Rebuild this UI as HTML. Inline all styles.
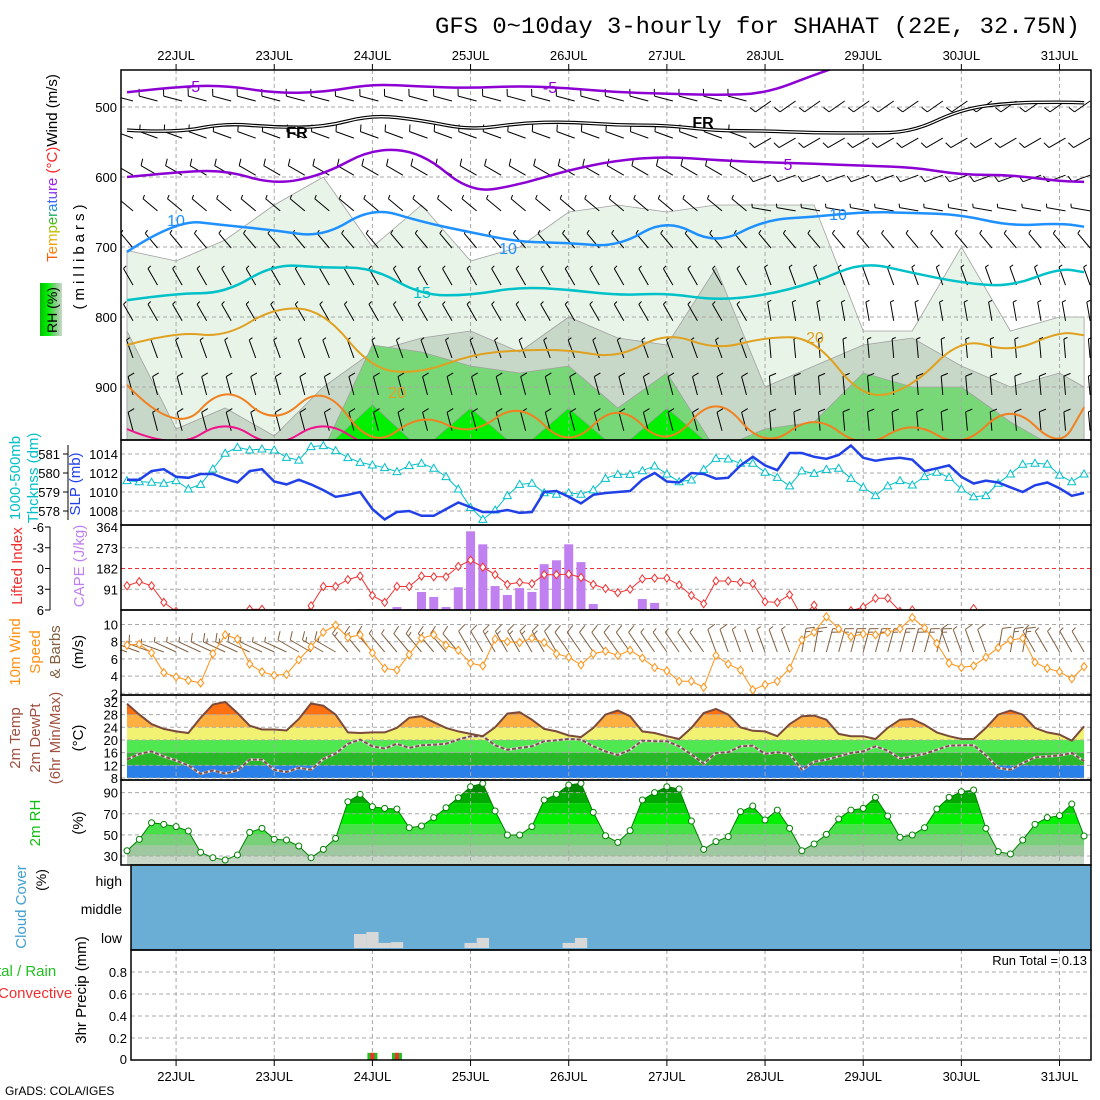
<!DOCTYPE html>
<html><head><meta charset="utf-8">
<style>
body{margin:0;background:#fff}
svg{display:block;font-family:"Liberation Sans",sans-serif}
</style></head>
<body>
<svg id="chart" xmlns="http://www.w3.org/2000/svg" width="1100" height="1100" viewBox="0 0 1100 1100">
<defs>
 <clipPath id="clipTop"><rect x="121" y="70" width="970" height="370"/></clipPath>
 <clipPath id="clip2"><rect x="121" y="440" width="970" height="85"/></clipPath>
 <clipPath id="clip3"><rect x="121" y="525" width="970" height="85"/></clipPath>
 <clipPath id="clip4"><rect x="121" y="610" width="970" height="85"/></clipPath>
 <clipPath id="clip6"><rect x="121" y="780" width="970" height="85"/></clipPath>
 <linearGradient id="rainbow" gradientUnits="userSpaceOnUse" x1="-100" y1="0" x2="-22" y2="0">
  <stop offset="0" stop-color="#ff2020"/><stop offset="0.25" stop-color="#ff9000"/>
  <stop offset="0.45" stop-color="#d0c000"/><stop offset="0.62" stop-color="#20c020"/>
  <stop offset="0.8" stop-color="#2080ff"/><stop offset="1" stop-color="#a020f0"/>
 </linearGradient>
 <linearGradient id="rhbox" x1="0" y1="0" x2="1" y2="0">
  <stop offset="0" stop-color="#00c000"/><stop offset="0.35" stop-color="#00f000"/>
  <stop offset="0.7" stop-color="#80d080"/><stop offset="1" stop-color="#c8d8c8"/>
 </linearGradient>
</defs>
<rect x="0" y="0" width="1100" height="1100" fill="#fff"/>
<text x="435" y="33" font-family="Liberation Mono, monospace" font-size="23" textLength="645" lengthAdjust="spacingAndGlyphs" fill="#000">GFS 0~10day 3-hourly for SHAHAT (22E, 32.75N)</text>

<text transform="translate(57,168) rotate(-90)" text-anchor="middle" font-size="15"><tspan fill="url(#rainbow)">Temperature</tspan><tspan fill="#ff2020"> (°C)</tspan><tspan fill="#000">Wind (m/s)</tspan></text>
<text transform="translate(84,255) rotate(-90)" text-anchor="middle" font-size="15" letter-spacing="4">(millibars)</text>
<rect x="40" y="283" width="22" height="53" fill="url(#rhbox)"/>
<text transform="translate(57,310) rotate(-90)" text-anchor="middle" font-size="14">RH (%)</text>

<text transform="translate(20,478) rotate(-90)" text-anchor="middle" font-size="15" fill="#00c0c8">1000-500mb</text>
<text transform="translate(38,478) rotate(-90)" text-anchor="middle" font-size="15" fill="#00c0c8">Thcknss (dm)</text>
<text transform="translate(80,484) rotate(-90)" text-anchor="middle" font-size="15" fill="#2040e8">SLP (mb)</text>
<text transform="translate(22,566) rotate(-90)" text-anchor="middle" font-size="15" fill="#f03030">Lifted Index</text>
<text transform="translate(84,566) rotate(-90)" text-anchor="middle" font-size="15" fill="#c080f0">CAPE (J/kg)</text>
<text transform="translate(20,652) rotate(-90)" text-anchor="middle" font-size="15" fill="#ff9010">10m Wind</text>
<text transform="translate(40,652) rotate(-90)" text-anchor="middle" font-size="15" fill="#ff9010">Speed</text>
<text transform="translate(60,652) rotate(-90)" text-anchor="middle" font-size="15" fill="#806040">&amp; Barbs</text>
<text transform="translate(83,652) rotate(-90)" text-anchor="middle" font-size="15">(m/s)</text>
<text transform="translate(20,738) rotate(-90)" text-anchor="middle" font-size="15" fill="#a05040">2m Temp</text>
<text transform="translate(40,738) rotate(-90)" text-anchor="middle" font-size="15" fill="#a05040">2m DewPt</text>
<text transform="translate(60,738) rotate(-90)" text-anchor="middle" font-size="15" fill="#a05040">(6hr Min/Max)</text>
<text transform="translate(83,738) rotate(-90)" text-anchor="middle" font-size="15">(°C)</text>
<text transform="translate(40,823) rotate(-90)" text-anchor="middle" font-size="15" fill="#10c010">2m RH</text>
<text transform="translate(83,823) rotate(-90)" text-anchor="middle" font-size="15">(%)</text>
<text transform="translate(26,907) rotate(-90)" text-anchor="middle" font-size="15" fill="#40a0d0">Cloud Cover</text>
<text transform="translate(46,880) rotate(-90)" text-anchor="middle" font-size="14">(%)</text>
<text x="122" y="886" text-anchor="end" font-size="14">high</text>
<text x="122" y="914" text-anchor="end" font-size="14">middle</text>
<text x="122" y="943" text-anchor="end" font-size="14">low</text>
<text x="-3" y="976" font-size="15" fill="#20c020">tal / Rain</text>
<text x="-2" y="998" font-size="15" fill="#f03030">Convective</text>
<text transform="translate(86,990) rotate(-90)" text-anchor="middle" font-size="15">3hr Precip (mm)</text>
<text x="1087" y="965" text-anchor="end" font-size="13">Run Total = 0.13</text>
<text x="5" y="1095" font-size="12">GrADS: COLA/IGES</text>

<g id="plot"></g>
</svg>
<script>
const dayLabels=['22JUL','23JUL','24JUL','25JUL','26JUL','27JUL','28JUL','29JUL','30JUL','31JUL'];
const slp=[1011.3,1011.3,1012.2,1012.4,1011.6,1011.5,1011.9,1011.9,1011.4,1011.0,1012.2,1012.4,1011.1,1010.8,1011.3,1010.8,1010.2,1009.5,1009.7,1010.0,1008.2,1007.1,1007.9,1008.0,1007.5,1007.5,1008.2,1008.9,1008.4,1007.9,1007.9,1008.1,1007.8,1007.9,1010.0,1010.1,
1009.5,1008.8,1009.7,1009.9,1010.0,1010.1,1011.3,1012.0,1011.1,1011.0,1012.0,1011.9,1011.4,1011.5,1012.8,1013.7,1012.8,1012.3,1014.1,1014.1,1013.7,1013.5,1013.9,1014.9,1013.6,1013.3,1013.5,1013.6,1013.4,1012.2,1012.5,1012.8,1011.6,1010.9,1011.2,1011.0,1010.5,1010.0,1010.7,1011.0,1010.4,1009.6,1009.9];
const thick=[579.60,579.54,579.51,579.46,579.60,579.16,579.40,580.21,581.04,581.35,581.21,581.26,581.21,580.82,580.68,581.39,581.44,581.18,580.81,580.56,580.42,580.28,580.07,580.39,580.51,580.25,579.81,579.16,578.19,577.56,578.05,578.81,579.40,579.46,578.96,578.88,
578.96,578.88,579.11,579.72,579.93,579.93,580.12,580.37,579.95,579.54,579.63,580.19,580.77,580.74,580.51,580.51,580.04,579.77,579.32,580.11,579.98,580.19,580.25,579.72,579.25,578.81,579.32,579.60,579.37,579.81,580.04,579.77,579.16,578.75,578.81,579.46,579.95,580.46,580.51,580.47,579.89,579.54,579.95];
const liftedIndex=[2.5,1.9,2.5,4.9,6.2,8,8,8,8,8,5.9,5.9,8,8,8,5.4,2.6,2.6,1.6,1.1,3.9,4.9,2.6,2.6,1.1,1.2,1.2,-0.3,-1.2,-0.2,0.9,2.3,2.0,2.2,0.9,0.9,
0.8,1.3,2.3,2.9,3.5,3.0,1.5,1.4,1.4,2.4,3.9,5.1,1.8,1.8,2.0,2.2,4.8,4.9,3.8,7,5.3,8,8,6.1,5.6,4.3,4.3,6.2,6.0,8,8,8,8,5.8,8,8,8,8,8,8,8,8,8];
const cape=[0,0,0,0,0,0,0,0,0,0,0,0,0,0,0,0,0,0,0,4,0,0,13,4,79,57,13,100,345,288,105,66,96,79,201,218,
288,210,26,4,0,4,48,31,0,0,0,0,0,0,0,0,0,0,0,0,0,0,0,0,0,0,0,0,0,0,0,0,0,0,0,0,0,0,0,0,0,0,0];
const windSpeed=[7.6,7.7,6.7,4.4,3.9,3.5,3.2,6.6,8.8,8.3,5.4,4.5,4.1,4.2,5.9,7.4,9.1,9.9,8.5,8.8,6.7,4.9,4.7,6.5,8.4,8.8,7.6,7.0,5.5,5.2,8.3,8.0,7.9,8.4,7.9,6.6,
6.2,5.3,6.6,6.9,6.4,7.0,6.1,5.0,4.6,3.4,3.4,2.7,6.4,5.4,4.7,2.4,3.0,3.4,4.9,8.2,9.1,10.9,9.5,8.6,8.9,8.8,9.1,9.5,10.8,9.6,7.8,5.5,5.0,5.2,6.2,7.3,8.2,8.4,5.6,4.9,4.5,3.7,5.1];
const windDir=[290,290,290,290,295,295,295,295,295,295,295,295,295,295,300,300,300,300,320,320,320,320,320,320,320,320,320,320,330,330,330,330,330,330,330,330,
325,325,325,325,325,325,325,325,325,325,325,325,340,340,340,340,340,340,340,10,10,15,15,15,15,15,15,15,15,15,15,340,340,340,340,10,10,10,330,330,330,330,330];
const temp2m=[31.4,28,25,23.5,22.7,22.2,27,31.2,32,28.5,24.5,23.3,23.3,23,26.6,31.5,30.8,28,22.4,22.2,22.4,22.4,23.8,27,27.5,25.6,23.8,22.7,21.9,21.2,24,28.3,28.8,26.4,23.5,22.7,
21.4,20.9,23.8,28,29.3,27.5,22.7,22.2,21.2,20.3,23.8,28.5,29.8,28,24,22.9,22.7,21.2,25,27.5,27.7,26.4,21.9,21.2,21.2,20.3,23.8,26.4,26.6,24.8,22.4,21.2,20.3,20.3,23.8,28,29.3,28,23.8,22.4,21.7,19.8,24.3];
const dewPoint=[13.8,15.6,16.4,14.8,13.5,12,9.3,10.4,9.4,10.4,13.8,13.8,10.6,9.9,11.2,10.6,14,15.7,18.8,20.1,18,17.3,18.8,17.5,18.3,18.5,18.8,20.1,21.2,21.2,18.3,16.9,17.5,18,19.6,19.9,
20.3,20.1,18,16.4,15.2,16.9,19.8,19.6,19.6,18,15.4,12.5,15.9,16.1,18,18.2,15.6,16.1,15.6,10.6,13.1,13.8,14.8,15.9,16.4,18,16.6,14.1,14.8,15.6,16.9,18.2,18.3,18.3,15.2,11.2,10.6,12.7,14.5,14.8,15.1,15.9,13.3];
const rh2m=[35,45.8,61.5,60,57.8,53.7,33.5,28.4,26.2,31,52.4,56.2,45.8,45.1,39.5,28.4,36.3,46.7,81.4,88.4,76.7,75.1,74.5,56.8,58.4,66.3,75.7,85.2,95.6,98.8,72.6,49.9,49.9,57.8,83,88.4,
97.2,98.8,71.3,49.2,42.9,54,83,90,95.6,93.4,63.1,36.3,43.6,48.3,72,77.3,64.1,73.5,56.2,35,41.4,50.5,65,73.5,75.1,85.5,67.9,47.7,49.9,56.8,74.5,85.5,90.9,92.5,56.2,34.1,31.9,45.1,60,66.3,68.2,79.2,48.9];
const lowCloudIdx=[19,20,21,22,28,29,36,37];
const lowCloudPct=[50,57,18,21,18,36,18,36];
const precipIdx=[20,22];
const precipTotal=[0.065,0.065];
const precipConv=[0.065,0.065];
const ctIdx=[0,4,8,12,16,20,24,28,32,36,40,44,48,52,56,60,64,68,72,76,78];
const isoM5=[479,471,469,480,479,467,471,473,470,473,479,481,483,481,454,430,430,430,430,430,430];
const isoFR=[533,537,523,529,529,511,519,533,523,521,526,526,534,534,537,537,536,503,494,493,494];
const iso5=[600,593,590,611,597,559,564,623,611,590,576,571,576,579,581,584,586,597,597,606,607];
const iso10=[707,661,669,676,686,643,664,679,693,694,700,659,697,661,657,650,651,654,670,666,671];
const iso15=[776,766,766,724,730,729,769,769,757,761,769,766,776,769,751,721,737,751,757,730,736];
const iso20=[840,821,829,786,790,876,880,854,847,847,859,821,847,829,829,919,901,829,851,821,826];
const iso25=[897,971,893,957,893,990,936,971,919,990,919,990,907,990,937,990,947,990,921,990,929];
const iso30=[960,990,945,990,945,990,990,990,990,990,990,990,990,990,990,990,990,990,990,990,990];
const rh30Top=[705,720,690,640,600,700,640,720,700,650,640,650,640,640,640,820,820,700,820,800,800];
const rh50Top=[820,960,930,970,900,850,830,820,850,800,830,840,730,900,870,840,830,870,900,880,900];
const rh70Top=[990,990,990,990,990,840,850,870,880,870,930,880,990,960,950,880,900,900,950,990,990];
const rh90Top=[990,990,990,990,990,925,990,930,990,930,990,930,990,990,990,990,990,990,990,990,990];
const barbLevels=[480,533,586,637,690,743,794,847,900,951];
const barbDirEarly=[285,290,300,310,320,330,330,340,345,345];
const barbDirLate=[235,240,250,280,320,340,350,355,355,355];
const barbSpeed=[6,6,5.5,5,5,5,5,5,5.5,5.5];

const NS='http://www.w3.org/2000/svg';
const root=document.getElementById('plot');
const defs=document.querySelector('defs');
function el(tag,attrs,parent){const e=document.createElementNS(NS,tag);for(const k in attrs)e.setAttribute(k,attrs[k]);(parent||root).appendChild(e);return e;}
const xI=i=>127+i*12.27;
const yP=p=>107+(p-500)*0.7;
const ySLP=v=>511-(v-1008)*9.5;
const yTh=t=>511-(t-578)*19;
const yLI=l=>568.5+l*6.917;
const yCape=c=>610-c*(83/364);
const yW=s=>693.3-(s-2)*8.6;
const yT=t=>778-(t-8)*3.17;
const yRH=r=>856-(r-30)*1.056;
const yPr=v=>1060-v*110;
const dayX=k=>xI(4+8*k);
const GRID='#a8a8a8';
function hline(y,x0,x1,color,name){const l=el('line',{x1:x0,x2:x1,y1:y,y2:y,stroke:color||GRID,'stroke-dasharray':'4,3','stroke-width':1});
 
 }
function vgrid(y0,y1){for(let k=0;k<dayLabels.length;k++){const l=el('line',{x1:dayX(k),x2:dayX(k),y1:y0,y2:y1,stroke:GRID,'stroke-dasharray':'4,3'});
 
 }}
function label(x,y,txt,anchor,color,size,name){const t=el('text',{x:x,y:y,'text-anchor':anchor||'end',fill:color||'#000','font-size':size||13});t.textContent=txt;
 
 return t;}
function smooth(pts){let d='M'+pts[0][0].toFixed(1)+' '+pts[0][1].toFixed(1);
 for(let k=1;k<pts.length-1;k++){const mx=(pts[k][0]+pts[k+1][0])/2,my=(pts[k][1]+pts[k+1][1])/2;d+=' Q'+pts[k][0].toFixed(1)+' '+pts[k][1].toFixed(1)+' '+mx.toFixed(1)+' '+my.toFixed(1);}
 const L=pts[pts.length-1];d+=' L'+L[0].toFixed(1)+' '+L[1].toFixed(1);return d;}
function linePath(vals,fx,fy){return vals.map((v,i)=>(i?'L':'M')+fx(i).toFixed(1)+' '+fy(v).toFixed(1)).join(' ');}
function barbPath(x,y,dir,spd,len){const a=dir*Math.PI/180,ux=Math.sin(a),uy=-Math.cos(a);
 const tx=x+ux*len,ty=y+uy*len;let d='M'+x.toFixed(1)+' '+y.toFixed(1)+' L'+tx.toFixed(1)+' '+ty.toFixed(1);
 const kn=spd*1.944;let full=Math.floor(kn/10),half=(kn%10)>=5?1:0;const px=-uy,py=ux;const fl=len*0.36;let pos=0;
 for(let f=0;f<full+half;f++){const bx=tx-ux*pos,by=ty-uy*pos;const l=(f<full)?fl:fl*0.55;
  d+=' M'+bx.toFixed(1)+' '+by.toFixed(1)+' L'+(bx+px*l+ux*l*0.3).toFixed(1)+' '+(by+py*l+uy*l*0.3).toFixed(1);pos+=len*0.15;}
 return d;}

for(let k=0;k<dayLabels.length;k++){
 label(dayX(k),60,dayLabels[k],'middle','#000',13,'top-date-label');
 label(dayX(k),1081,dayLabels[k],'middle','#000',13,'bottom-date-label');
 const t1=el('line',{x1:dayX(k),x2:dayX(k),y1:64,y2:70,stroke:'#000'});
 
 
 const t2=el('line',{x1:dayX(k),x2:dayX(k),y1:1060,y2:1066,stroke:'#000'});
 
 
}

const gTop=el('g',{'clip-path':'url(#clipTop)'});


function areaPath(tops){let d='M'+xI(ctIdx[0]).toFixed(1)+' 450';ctIdx.forEach((t,k)=>{d+=' L'+xI(t).toFixed(1)+' '+yP(tops[k]).toFixed(1);});d+=' L'+xI(ctIdx[ctIdx.length-1]).toFixed(1)+' 450 Z';return d;}
[[rh30Top,'#e8f4e8','rh-30-shading'],[rh50Top,'#c8d8c8','rh-50-shading'],[rh70Top,'#78d878','rh-70-shading'],[rh90Top,'#00f000','rh-90-shading']].forEach(s=>{
 const p=el('path',{d:areaPath(s[0]),fill:s[1],stroke:'#a0a0a0','stroke-width':0.8},gTop);
 
 
});
[500,600,700,800,900].forEach(p=>{const l=el('line',{x1:121,x2:1091,y1:yP(p),y2:yP(p),stroke:GRID,'stroke-dasharray':'4,3'},gTop);
 
 
 label(117,yP(p)+5,String(p),'end','#000',13,'pressure-tick-label');});
for(let k=0;k<dayLabels.length;k++){const l=el('line',{x1:dayX(k),x2:dayX(k),y1:70,y2:440,stroke:GRID,'stroke-dasharray':'4,3'},gTop);
 
 }
for(let i=0;i<=78;i+=2){barbLevels.forEach((p,L)=>{const dir=i<52?barbDirEarly[L]:barbDirLate[L];
 const b=el('path',{d:barbPath(xI(i)+6,yP(p)+8,dir,barbSpeed[L],19),stroke:'#000','stroke-width':1,fill:'none'},gTop);
 
 });}
const isos=[[isoM5,'#8c00d4',2.5,'isotherm-minus5'],[iso5,'#8c00d4',2.5,'isotherm-5'],[iso10,'#1e90ff',2.5,'isotherm-10'],[iso15,'#00c0c8',2.5,'isotherm-15'],[iso20,'#e0a020',2,'isotherm-20'],[iso25,'#f08020',2,'isotherm-25'],[iso30,'#f0148c',2,'isotherm-30']];
isos.forEach(c=>{const pts=ctIdx.map((t,k)=>[xI(t),yP(c[0][k])]);
 const p=el('path',{d:smooth(pts),stroke:c[1],'stroke-width':c[2],fill:'none'},gTop);
 
 });
{const pts=ctIdx.map((t,k)=>[xI(t),yP(isoFR[k])]);
 const a=el('path',{d:smooth(pts),stroke:'#000','stroke-width':3.5,fill:'none'},gTop);
 
 
 const b=el('path',{d:smooth(pts),stroke:'#fff','stroke-width':1.2,fill:'none'},gTop);
 
 }
[[193,92,'-5','#8c00d4'],[550,93,'-5','#8c00d4'],[297,138,'FR','#000'],[703,128,'FR','#000'],[788,170,'5','#8c00d4'],[176,226,'10','#1e90ff'],[508,254,'10','#1e90ff'],[838,220,'10','#1e90ff'],[422,298,'15','#00c0c8'],[815,343,'20','#e0a020'],[397,398,'20','#e0a020']].forEach(c=>{
 const t=el('text',{x:c[0],y:c[1],'text-anchor':'middle','font-size':16,fill:c[3],'font-weight':c[2]==='FR'?'bold':'normal'},gTop);t.textContent=c[2];
 
 });

[1014,1012,1010,1008].forEach(v=>{hline(ySLP(v),121,1091,GRID,'slp-gridline');label(118,ySLP(v)+5,String(v),'end','#000',13,'slp-tick-label');});
[581,580,579,578].forEach(t=>{label(60,yTh(t)+5,String(t),'end','#000',13,'thickness-tick-label');
 const tk=el('line',{x1:63,x2:68,y1:yTh(t),y2:yTh(t),stroke:'#000'});
 
 });
{const ax=el('line',{x1:68,x2:68,y1:445,y2:520,stroke:'#000'});
 
 }
vgrid(440,525);
const g2=el('g',{'clip-path':'url(#clip2)'});


{const l=el('path',{d:linePath(thick,xI,yTh),stroke:'#00c0c8','stroke-width':1,fill:'none'},g2);
 
 
 thick.forEach((t,i)=>{const x=xI(i),y=yTh(t);const m=el('path',{d:`M${x} ${y-4} L${x+4} ${y+3} L${x-4} ${y+3} Z`,fill:'#fff',stroke:'#00c0c8'},g2);
 
 });
 const s=el('path',{d:linePath(slp,xI,ySLP),stroke:'#2040e8','stroke-width':2.5,fill:'none'},g2);
 
 }

[-6,-3,0,3,6].forEach(v=>{label(44,yLI(v)+5,String(v),'end','#000',13,'lifted-index-tick-label');
 const tk=el('line',{x1:45,x2:50,y1:yLI(v),y2:yLI(v),stroke:'#000'});
 
 });
{const ax=el('line',{x1:50,x2:50,y1:527,y2:610,stroke:'#000'});
 
 }
[364,273,182,91].forEach(c=>label(118,yCape(c)+5,String(c),'end','#000',13,'cape-tick-label'));
hline(yLI(-3),121,1091,GRID,'cape-gridline');hline(yLI(3),121,1091,GRID,'cape-gridline');
vgrid(525,610);
hline(yLI(0),121,1091,'#f03030','lifted-index-zero-line');
const g3=el('g',{'clip-path':'url(#clip3)'});


cape.forEach((c,i)=>{if(c<=0)return;const b=el('rect',{x:xI(i)-4.5,y:yCape(c),width:9,height:610-yCape(c),fill:'#c080f0'},g3);
 
 });
{const l=el('path',{d:linePath(liftedIndex,xI,yLI),stroke:'#f03030','stroke-width':1,fill:'none'},g3);
 
 
 liftedIndex.forEach((v,i)=>{const x=xI(i),y=yLI(v);const m=el('path',{d:`M${x} ${y-4} L${x+3} ${y} L${x} ${y+4} L${x-3} ${y} Z`,fill:'#fff',stroke:'#f03030'},g3);
 
 });}

[10,8,6,4,2].forEach(v=>{hline(yW(v),121,1091,GRID,'wind-gridline');label(118,yW(v)+5,String(v),'end','#000',13,'wind-tick-label');});
vgrid(610,695);
const g4=el('g',{'clip-path':'url(#clip4)'});


windSpeed.forEach((s,i)=>{const b=el('path',{d:barbPath(xI(i),652,windDir[i],s,24),stroke:'#806040','stroke-width':1,fill:'none'},g4);
 
 });
{const l=el('path',{d:linePath(windSpeed,xI,yW),stroke:'#ff9010','stroke-width':1,fill:'none'},g4);
 
 
 windSpeed.forEach((v,i)=>{const x=xI(i),y=yW(v);const m=el('path',{d:`M${x} ${y-4} L${x+3} ${y} L${x} ${y+4} L${x-3} ${y} Z`,fill:'#fff',stroke:'#ff9010'},g4);
 
 });}

{const cp=document.createElementNS(NS,'clipPath');cp.setAttribute('id','tempArea');defs.appendChild(cp);
 const d='M'+xI(0)+' 778 '+temp2m.map((t,i)=>'L'+xI(i).toFixed(1)+' '+yT(t).toFixed(1)).join(' ')+' L'+xI(78)+' 778 Z';
 el('path',{d:d},cp);
 const g5=el('g',{'clip-path':'url(#tempArea)'});
 
 
 [[8,12,'#2880e8'],[12,16,'#28b828'],[16,20,'#50e850'],[20,24,'#f2f272'],[24,28,'#ffb040'],[28,34,'#ff7010']].forEach(b=>{
  const r=el('rect',{x:121,y:yT(b[1]),width:970,height:yT(b[0])-yT(b[1]),fill:b[2]},g5);
  
  });}
[32,28,24,20,16,12,8].forEach(v=>{hline(yT(v),121,1091,GRID,'temp-gridline');label(118,yT(v)+5,String(v),'end','#000',13,'temp-tick-label');});
vgrid(695,780);
{const dwBg=el('path',{d:linePath(dewPoint,xI,yT),stroke:'#e0e0e0','stroke-width':2.5,fill:'none'});
 
 
 const dw=el('path',{d:linePath(dewPoint,xI,yT),stroke:'#805050','stroke-width':2,'stroke-dasharray':'4,2',fill:'none'});
 
 
 const tl=el('path',{d:linePath(temp2m,xI,yT),stroke:'#7a4a3a','stroke-width':2,fill:'none'});
 
 }

{const cp=document.createElementNS(NS,'clipPath');cp.setAttribute('id','rhArea');defs.appendChild(cp);
 const d='M'+xI(0)+' 865 '+rh2m.map((r,i)=>'L'+xI(i).toFixed(1)+' '+yRH(r).toFixed(1)).join(' ')+' L'+xI(78)+' 865 Z';
 el('path',{d:d},cp);
 const g6=el('g',{'clip-path':'url(#rhArea)'});
 
 
 [[15,30,'#c8d8c8'],[30,40,'#a0c8a0'],[40,50,'#78d078'],[50,60,'#48e048'],[60,70,'#00f000'],[70,80,'#00d400'],[80,90,'#00a800'],[90,105,'#008800']].forEach(b=>{
  const r=el('rect',{x:121,y:yRH(b[1]),width:970,height:yRH(b[0])-yRH(b[1]),fill:b[2]},g6);
  
  });}
[90,70,50,30].forEach(v=>{hline(yRH(v),121,1091,GRID,'rh-gridline');label(118,yRH(v)+5,String(v),'end','#000',13,'rh-tick-label');});
vgrid(780,865);
{const g=el('g',{'clip-path':'url(#clip6)'});
 
 
 const l=el('path',{d:linePath(rh2m,xI,yRH),stroke:'#008000','stroke-width':1,fill:'none'},g);
 
 
 rh2m.forEach((v,i)=>{const c=el('circle',{cx:xI(i),cy:yRH(v),r:3,fill:'#fff',stroke:'#008000'},g);
 
 });}

{const r=el('rect',{x:131,y:866,width:960,height:84,fill:'#6aaed6'});
 
 }
lowCloudIdx.forEach((i,k)=>{const h=lowCloudPct[k]*0.28;const r=el('rect',{x:xI(i)-6.1,y:948-h,width:12.3,height:h,fill:'#d8d8d8'});
 
 });

[0.8,0.6,0.4,0.2].forEach(v=>{hline(yPr(v),131,1091,GRID,'precip-gridline');label(127,yPr(v)+5,String(v),'end','#000',13,'precip-tick-label');});
label(127,1064,'0','end','#000',13,'precip-tick-label');
vgrid(950,1060);
precipIdx.forEach((i,k)=>{const h=precipTotal[k]*110;const r=el('rect',{x:xI(i)-5,y:1060-h,width:10,height:h,fill:'#20c020'});
 
 
 const hc=precipConv[k]*110;const c=el('rect',{x:xI(i)-2,y:1060-hc,width:4,height:hc,fill:'#f03030'});
 
 });

[[121,70,970,370],[121,440,970,85],[121,525,970,85],[121,610,970,85],[121,695,970,85],[121,780,970,85],[131,865,960,85],[131,950,960,110]].forEach(b=>{
 const r=el('rect',{x:b[0],y:b[1],width:b[2],height:b[3],fill:'none',stroke:'#000','stroke-width':1.5});
 
 });
</script>
</body></html>
